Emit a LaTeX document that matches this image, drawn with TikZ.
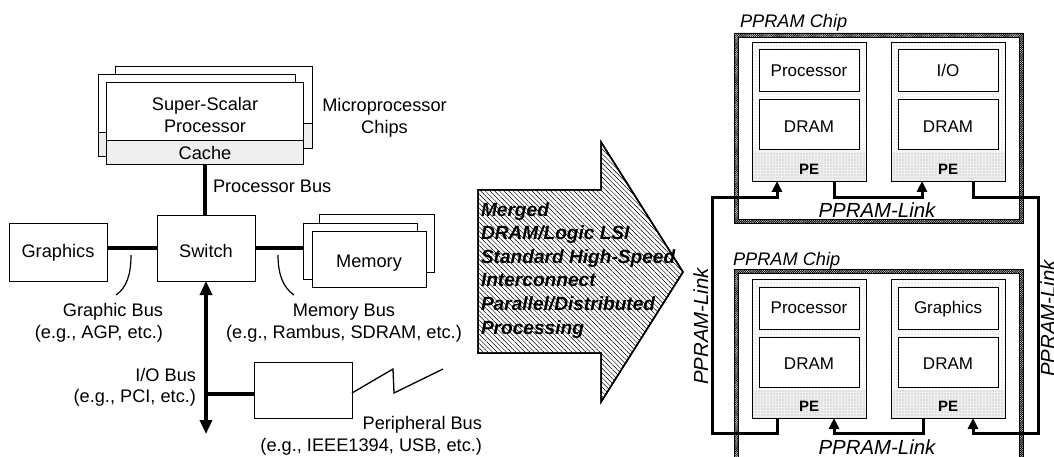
\documentclass[tikz,border=0pt]{standalone}
\usepackage{fontspec}
\setmainfont{Liberation Sans}
\usetikzlibrary{patterns.meta,arrows.meta,calc}
\tikzset{
  txt/.style={font=\fontsize{18.2}{22}\selectfont},
  intxt/.style={font=\fontsize{17}{20}\selectfont},
  petxt/.style={font=\fontsize{15}{18}\selectfont\bfseries},
  chiptxt/.style={font=\fontsize{18.2}{22}\selectfont\itshape},
  linktxt/.style={font=\fontsize{20.4}{24}\selectfont\itshape},
  arrtxt/.style={font=\fontsize{19.1}{23}\selectfont\bfseries\itshape},
  box/.style={draw, line width=1pt, fill=white},
  cpubox/.style={box, minimum width=197pt, minimum height=82pt,
    path picture={
      \fill[pattern={Dots[distance=2pt,radius=0.45pt]}, pattern color=black!80]
        (path picture bounding box.south west) rectangle ([yshift=25pt]path picture bounding box.south east);
      \draw[line width=0.8pt] ([yshift=25pt]path picture bounding box.south west) -- ([yshift=25pt]path picture bounding box.south east);
    }},
  membox/.style={box, minimum width=114pt, minimum height=56pt},
  pebox/.style={draw, line width=0.9pt, minimum width=114pt, minimum height=139pt,
    preaction={fill=white},
    pattern={Dots[distance=3pt,radius=0.4pt]}, pattern color=black!75,
    path picture={
      \fill[pattern={Dots[distance=2pt,radius=0.4pt]}, pattern color=black!75]
        (path picture bounding box.south west) rectangle ([yshift=28pt]path picture bounding box.south east);
    }},
  inbox/.style={box, minimum width=100pt},
  bus/.style={line width=3.2pt},
  link/.style={line width=3pt, -{Triangle[length=11pt,width=10pt]}},
  band/.style={pattern={Lines[angle=45,distance=1.5pt,line width=0.9pt]}, pattern color=black, even odd rule},
}
\begin{document}
\begin{tikzpicture}[x=1pt,y=-1pt, every node/.style={inner sep=0pt, outer sep=0pt}]
\useasboundingbox (0,0) rectangle (1054,457);
\clip (0,0) rectangle (1054,457);

% ---------- microprocessor chips ----------
\node[cpubox] (cpuA) at (213.5,107.5) {};
\node[cpubox] (cpuB) at (196.5,116) {};
\node[cpubox] (cpu) at (205,124) {};
\node[txt, anchor=base] (ss) at (205,110.5) {Super-Scalar};
\node[txt, anchor=base] (pp) at (205,133) {Processor};
\node[txt, anchor=base] (cachelab) at (205,159.5) {Cache};
\node[txt, anchor=base] (micro) at (384.5,111.5) {Microprocessor};
\node[txt, anchor=base] (chips) at (384.5,133.5) {Chips};

% ---------- switch, graphics, memory ----------
\node[box, minimum width=98pt, minimum height=66pt] (sw) at (206,248) {};
\node[txt, anchor=base] (swlab) at ([yshift=-9pt]sw.center) {Switch};
\node[box, minimum width=98pt, minimum height=58pt] (gfx) at (58,252) {};
\node[txt, anchor=base] (gfxlab) at ([yshift=-5pt]gfx.center) {Graphics};

\draw[bus] (cpu.south) -- (cpu.south |- sw.north);
\node[txt, anchor=base west] (pbus) at (213,193) {Processor Bus};

\draw[bus] (sw.west) -- (sw.west -| gfx.east);

\node[box, minimum width=115pt, minimum height=58pt] (mem3) at (376.5,243) {};
\node[membox] (mem2) at (360,251) {};
\draw[bus] (sw.east) -- (sw.east -| mem2.west);
\node[membox] (mem1) at (369,259) {};
\node[txt, anchor=base] (memlab) at ([yshift=-8pt]mem1.center) {Memory};

% leaders
\draw[line width=1.2pt] (131,255) .. controls (131,276) and (126,288) .. (116,295);
\draw[line width=1.2pt] (278,255) .. controls (278,276) and (284,288) .. (294,295);

\node[txt, anchor=base east] (gb1) at (163,316) {Graphic Bus};
\node[txt, anchor=base east] (gb2) at (163,338) {(e.g., AGP, etc.)};
\node[txt, anchor=base] (mb1) at (344,316) {Memory Bus};
\node[txt, anchor=base] (mb2) at (344,338) {(e.g., Rambus, SDRAM, etc.)};

% ---------- I/O bus ----------
\path (sw.south) ++(0,113) coordinate (iojoin);
\path (sw.south) ++(0,153) coordinate (iobot);
\draw[bus, {Triangle[length=14pt,width=12pt]}-{Triangle[length=14pt,width=12pt]}] (sw.south) -- (iobot);
\node[box, minimum width=98pt, minimum height=56pt] (periph) at (303,390) {};
\draw[bus] (iojoin) -- (iojoin -| periph.west);
\draw[line width=1.3pt] ([yshift=-3pt]periph.east) -- ++(41,-24) -- ++(1,24) -- ++(49,-24);

\node[txt, anchor=base east] (iob1) at (196,381) {I/O Bus};
\node[txt, anchor=base east] (iob2) at (196,402) {(e.g., PCI, etc.)};
\node[txt, anchor=base east] (pb1) at (482,429.5) {Peripheral Bus};
\node[txt, anchor=base east] (pb2) at (482,451) {(e.g., IEEE1394, USB, etc.)};

% ---------- big arrow ----------
\filldraw[line width=1.5pt, fill=white] (478,190) -- (601,190) -- (601,142) -- (683,272) -- (601,402) -- (601,353) -- (478,353) -- cycle;
\fill[pattern={Lines[angle=-45,distance=3.3pt,line width=0.5pt]}, pattern color=black] (478,190) -- (601,190) -- (601,142) -- (683,272) -- (601,402) -- (601,353) -- (478,353) -- cycle;
\draw[line width=1.5pt] (478,190) -- (601,190) -- (601,142) -- (683,272) -- (601,402) -- (601,353) -- (478,353) -- cycle;
\node[arrtxt, anchor=base west] (a1) at (481,216) {Merged};
\node[arrtxt, anchor=base west] (a2) at (481,239.6) {DRAM/Logic LSI};
\node[arrtxt, anchor=base west] (a3) at (481,263.2) {Standard High-Speed};
\node[arrtxt, anchor=base west] (a4) at (481,286.8) {Interconnect};
\node[arrtxt, anchor=base west] (a5) at (481,310.4) {Parallel/Distributed};
\node[arrtxt, anchor=base west] (a6) at (481,334) {Processing};

% ---------- PPRAM chips ----------
\node[minimum width=289pt, minimum height=190pt] (chip1) at (878.5,128) {};
\node[minimum width=289pt, minimum height=196pt] (chip2) at (878.5,367) {};
\foreach \c in {chip1,chip2}{
  \fill[band] (\c.south west) rectangle (\c.north east)
    ([shift={(4pt,4pt)}]\c.south west) rectangle ([shift={(-4pt,-4pt)}]\c.north east);
  \draw[line width=0.8pt] (\c.south west) rectangle (\c.north east);
  \draw[line width=0.8pt] ([shift={(4pt,4pt)}]\c.south west) rectangle ([shift={(-4pt,-4pt)}]\c.north east);
}
\node[chiptxt, anchor=base west] (c1lab) at (740,28) {PPRAM Chip};
\node[chiptxt, anchor=base west] (c2lab) at (733,265) {PPRAM Chip};

\node[pebox] (pe1) at (809,111.5) {};
\node[pebox] (pe2) at (948,111.5) {};
\node[pebox] (pe3) at (809,348.5) {};
\node[pebox] (pe4) at (948,348.5) {};

\node[inbox, minimum height=42pt] (proc1) at (809,71) {};
\node[inbox, minimum height=50pt] (dram1) at (809,125) {};
\node[inbox, minimum height=42pt] (io2) at (948,71) {};
\node[inbox, minimum height=50pt] (dram2) at (948,125) {};
\node[inbox, minimum height=42pt] (proc3) at (809,308) {};
\node[inbox, minimum height=50pt] (dram3) at (809,362) {};
\node[inbox, minimum height=42pt] (gfx4) at (948,308) {};
\node[inbox, minimum height=50pt] (dram4) at (948,362) {};

\node[intxt, anchor=base] (tp1) at ([yshift=-5.5pt]proc1.center) {Processor};
\node[intxt, anchor=base] (td1) at ([yshift=-7.5pt]dram1.center) {DRAM};
\node[intxt, anchor=base] (ti2) at ([yshift=-5.5pt]io2.center) {I/O};
\node[intxt, anchor=base] (td2) at ([yshift=-7.5pt]dram2.center) {DRAM};
\node[intxt, anchor=base] (tp3) at ([yshift=-5.5pt]proc3.center) {Processor};
\node[intxt, anchor=base] (td3) at ([yshift=-7.5pt]dram3.center) {DRAM};
\node[intxt, anchor=base] (tg4) at ([yshift=-5.5pt]gfx4.center) {Graphics};
\node[intxt, anchor=base] (td4) at ([yshift=-7.5pt]dram4.center) {DRAM};

\foreach \p in {pe1,pe2,pe3,pe4}{
  \node[petxt, anchor=base] (\p lab) at ([yshift=6.5pt]\p.south) {PE};
}

% ---------- PPRAM links ----------
\coordinate (ya) at (0,197.5);
\coordinate (yb) at (0,433);
\coordinate (xl) at (712,0);
\coordinate (xr) at (1038,0);

\draw[link] ([xshift=-32pt]pe3.south) |- (xl |- yb) -- (xl |- ya) -| ([xshift=-32pt]pe1.south);
\draw[link] ([xshift=25pt]pe1.south) -- ([xshift=25pt]pe1.south |- ya) -| ([xshift=-26pt]pe2.south);
\draw[link] ([xshift=25pt]pe2.south) -- ([xshift=25pt]pe2.south |- ya) -| (xr |- yb) -| ([xshift=25pt]pe4.south);
\draw[link] ([xshift=-25pt]pe4.south) -- ([xshift=-25pt]pe4.south |- yb) -| ([xshift=25pt]pe3.south);

\node[linktxt, anchor=base] (l1) at (877,217) {PPRAM-Link};
\node[linktxt, anchor=base] (l2) at (877,454) {PPRAM-Link};
\node[linktxt, anchor=base, rotate=90] (l3) at (708,326.5) {PPRAM-Link};
\node[linktxt, anchor=base, rotate=90] (l4) at (1055,318.5) {PPRAM-Link};
\end{tikzpicture}
\end{document}
